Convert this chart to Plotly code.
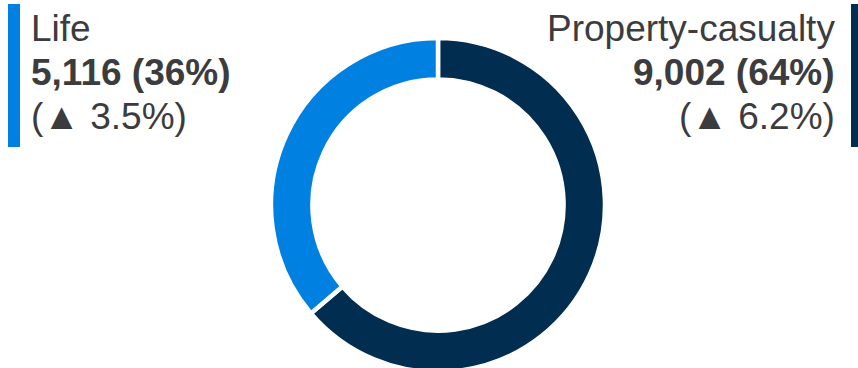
import plotly.graph_objects as go

# Premium split by segment
segments = ["Life", "Property-casualty"]
premiums = [5116, 9002]
shares = ["36%", "64%"]
growth = ["3.5%", "6.2%"]
colors = ["#0080E0", "#002D50"]

W, H = 858, 373
TEXT = "#3C3C3E"
FONT = "Liberation Sans, Arial, sans-serif"


def fx(px):
    return px / W


def fy(px):
    return 1 - px / H


# ring geometry in pixels
cx, cy, R = 438, 205, 167

# property-casualty runs clockwise from 12 o'clock, life fills the rest
order = [1, 0]
fig = go.Figure(
    go.Pie(
        labels=[segments[k] for k in order],
        values=[premiums[k] for k in order],
        hole=0.752,
        sort=False,
        direction="clockwise",
        rotation=0,
        marker=dict(colors=[colors[k] for k in order],
                    line=dict(color="white", width=4.5)),
        textinfo="none",
        hoverinfo="label+value+percent",
        domain=dict(x=[fx(cx - R), fx(cx + R)], y=[fy(cy + R), fy(cy - R)]),
        showlegend=False,
    )
)

# text blocks: (x, anchor, bar x-range, index)
blocks = [(30.5, "left", (8, 20), 0), (835, "right", (851, 858), 1)]
line_y = [28.5, 72, 116]
for x, anchor, (bx0, bx1), i in blocks:
    lines = [
        (segments[i], False),
        (f"{premiums[i]:,} ({shares[i]})", True),
        (f"(▲ {growth[i]})", False),
    ]
    for (txt, bold), yy in zip(lines, line_y):
        fig.add_annotation(
            x=fx(x), y=fy(yy), xref="paper", yref="paper",
            xanchor=anchor, yanchor="middle",
            text=f"<b>{txt}</b>" if bold else txt,
            showarrow=False, borderpad=0, borderwidth=0,
            font=dict(family=FONT, size=37, color=TEXT),
        )
    fig.add_shape(
        type="rect", xref="paper", yref="paper",
        x0=fx(bx0), x1=fx(bx1), y0=fy(147), y1=fy(4),
        fillcolor=colors[i], line=dict(width=0),
    )

fig.update_layout(
    width=W, height=H,
    margin=dict(l=0, r=0, t=0, b=0),
    paper_bgcolor="white", plot_bgcolor="white",
)

fig.write_html(
    "out.html",
    post_script="document.body.style.overflow='hidden';"
    "document.documentElement.style.overflow='hidden';",
)
